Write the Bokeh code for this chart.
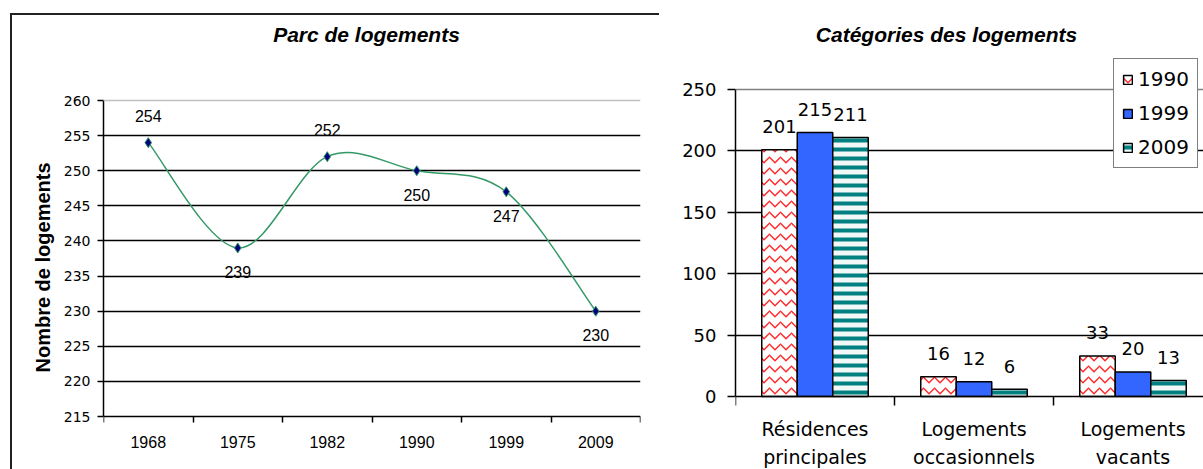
from bokeh.plotting import figure
from bokeh.layouts import row
from bokeh.models import Range1d, FixedTicker, Span, Label, Title, ColumnDataSource
from bokeh.core.properties import value
from bokeh.embed import file_html
from bokeh.resources import INLINE

# ---- data -------------------------------------------------------------
years = ["1968", "1975", "1982", "1990", "1999", "2009"]
logements = [254, 239, 252, 250, 247, 230]

categories = ["Résidences\nprincipales", "Logements\noccasionnels", "Logements\nvacants"]
series = ["1990", "1999", "2009"]
cat_1990 = [201, 16, 33]
cat_1999 = [215, 12, 20]
cat_2009 = [211, 6, 13]

# where each value label sits relative to its point on the line chart
label_side = ["above", "below", "above", "below", "below", "below"]

SANS = "Liberation Sans"
WIDE = "DejaVu Sans"
GREEN = "#339966"
H = 469

# ---- left: housing stock line chart --------------------------------------
# pixel geometry: the frame spans the full chart height, axes sit at fixed values
L_TOP, L_Y260, L_Y215 = 13, 100, 416
L_PX = (L_Y215 - L_Y260) / 45.0          # pixels per housing unit
L_CAT_PX = 89.5                           # pixels per year slot
xs = list(range(1, len(years) + 1))

p1 = figure(width=659, height=H,
            x_range=Range1d(0.5, len(years) + 0.5),
            y_range=Range1d(215 - (H - L_Y215) / L_PX, 260 + (L_Y260 - L_TOP) / L_PX),
            output_backend="svg", toolbar_location=None,
            min_border_left=103, min_border_right=19,
            min_border_top=L_TOP, min_border_bottom=0)
p1.outline_line_color = None
p1.background_fill_color = None
p1.border_fill_color = None
# chart frame: left and top edges painted behind the transparent canvas
p1.styles = {"background": "linear-gradient(#222, #222) 10px 13px / 649px 2px no-repeat, "
                           "linear-gradient(#222, #222) 10px 13px / 2px 480px no-repeat, #ffffff"}

p1.xgrid.visible = False
p1.ygrid.ticker = FixedTicker(ticks=list(range(220, 260, 5)))
p1.ygrid.grid_line_color = "black"
p1.ygrid.grid_line_width = 1.5
p1.add_layout(Span(location=260, dimension="width", line_color="#c0c0c0", line_width=1.5))

xa = p1.xaxis[0]
xa.fixed_location = 215
xa.ticker = FixedTicker(ticks=xs, minor_ticks=[x - 0.5 for x in xs] + [len(xs) + 0.5])
xa.major_label_overrides = {x: y for x, y in zip(xs, years)}
xa.major_tick_out = 0
xa.major_tick_in = 0
xa.minor_tick_out = 6
xa.minor_tick_in = 0
xa.minor_tick_line_color = "black"
xa.minor_tick_line_width = 1.5
xa.axis_line_color = "black"
xa.axis_line_width = 1.5
xa.major_label_text_font = SANS
xa.major_label_text_font_size = "16px"
xa.major_label_text_color = "black"
xa.major_label_standoff = 13

ya = p1.yaxis[0]
ya.bounds = (215, 260)
ya.ticker = FixedTicker(ticks=list(range(215, 261, 5)))
ya.minor_tick_line_color = None
ya.major_tick_out = 6
ya.major_tick_in = 0
ya.major_tick_line_color = "black"
ya.major_tick_line_width = 1.5
ya.axis_line_color = "black"
ya.axis_line_width = 1.5
ya.major_label_text_font = WIDE
ya.major_label_text_font_size = "14px"
ya.major_label_text_color = "black"
ya.major_label_standoff = 7

# vertical axis title, centred on the 215-260 span rather than the whole frame
p1.add_layout(Title(text="Nombre de logements", align="left", offset=H - 372,
                    standoff=14, text_font=SANS, text_font_size="20px",
                    text_font_style="bold", text_color="black"), "left")

# smoothed line: cubic Bezier segments with Catmull-Rom tangents
n = len(logements)
def tangent(i):
    a, b = max(i - 1, 0), min(i + 1, n - 1)
    return (xs[b] - xs[a]) / 2.0, (logements[b] - logements[a]) / 2.0

seg = dict(x0=[], y0=[], x1=[], y1=[], cx0=[], cy0=[], cx1=[], cy1=[])
for i in range(n - 1):
    t0, t1 = tangent(i), tangent(i + 1)
    seg["x0"].append(xs[i]); seg["y0"].append(logements[i])
    seg["x1"].append(xs[i + 1]); seg["y1"].append(logements[i + 1])
    seg["cx0"].append(xs[i] + t0[0] / 3); seg["cy0"].append(logements[i] + t0[1] / 3)
    seg["cx1"].append(xs[i + 1] - t1[0] / 3); seg["cy1"].append(logements[i + 1] - t1[1] / 3)
p1.bezier(x0="x0", y0="y0", x1="x1", y1="y1", cx0="cx0", cy0="cy0", cx1="cx1", cy1="cy1",
          source=ColumnDataSource(seg), line_color=GREEN, line_width=1.5)

p1.scatter(xs, logements, marker="diamond", size=10,
           fill_color="#000080", line_color=GREEN, line_width=1)

lab1 = ColumnDataSource(dict(
    x=xs, y=logements, text=[str(v) for v in logements],
    dy=[-27 if s == "above" else 24 for s in label_side]))
p1.text(x="x", y="y", text="text", y_offset="dy", source=lab1,
        text_align="center", text_baseline="middle",
        text_font=value(SANS), text_font_size="16px", text_color="black")

p1.add_layout(Label(x=0.5 + (366 - 103) / L_CAT_PX, y=260 + (L_Y260 - 34) / L_PX,
                    text="Parc de logements", text_align="center", text_baseline="middle",
                    text_font=SANS, text_font_size="21px", text_font_style="bold italic",
                    text_color="black"))

# ---- right: housing categories bar chart -----------------------------------
R_TOP, R_Y250, R_Y0 = 13, 89, 396
R_PX = (R_Y0 - R_Y250) / 250.0            # pixels per dwelling
GROUP_PX = 159.0                           # pixels per category slot
FRAME_W = 468.0
gx = [1, 2, 3]
bw = 0.2233

p2 = figure(width=544, height=H,
            x_range=Range1d(0.5, 0.5 + FRAME_W / GROUP_PX),
            y_range=Range1d(-(H - R_Y0) / R_PX, 250 + (R_Y250 - R_TOP) / R_PX),
            output_backend="svg", toolbar_location=None,
            min_border_left=76, min_border_right=0,
            min_border_top=R_TOP, min_border_bottom=0)
p2.outline_line_color = None
p2.background_fill_color = "white"
p2.border_fill_color = "white"

p2.xgrid.visible = False
p2.ygrid.ticker = FixedTicker(ticks=[50, 100, 150, 200])
p2.ygrid.grid_line_color = "black"
p2.ygrid.grid_line_width = 1.5
p2.add_layout(Span(location=250, dimension="width", line_color="#808080", line_width=1.5))

xb = p2.xaxis[0]
xb.fixed_location = 0
xb.ticker = FixedTicker(ticks=gx, minor_ticks=[g - 0.5 for g in gx] + [len(gx) + 0.5])
xb.major_label_overrides = {g: c for g, c in zip(gx, categories)}
xb.major_tick_out = 0
xb.major_tick_in = 0
xb.minor_tick_out = 9
xb.minor_tick_in = 0
xb.minor_tick_line_color = "black"
xb.minor_tick_line_width = 1.5
xb.axis_line_color = "black"
xb.axis_line_width = 1.5
xb.major_label_text_font = WIDE
xb.major_label_text_font_size = "19px"
xb.major_label_text_line_height = 1.28
xb.major_label_text_color = "black"
xb.major_label_standoff = 12

yb = p2.yaxis[0]
yb.bounds = (0, 250)
yb.ticker = FixedTicker(ticks=list(range(0, 251, 50)))
yb.minor_tick_line_color = None
yb.major_tick_out = 8
yb.major_tick_in = 0
yb.major_tick_line_color = "black"
yb.major_tick_line_width = 1.5
yb.axis_line_color = "black"
yb.axis_line_width = 1.5
yb.major_label_text_font = WIDE
yb.major_label_text_font_size = "18px"
yb.major_label_text_color = "black"
yb.major_label_standoff = 11

bar_styles = [
    dict(fill_color="white", hatch_pattern="horizontal_wave", hatch_color="#ff2a2a",
         hatch_scale=11, hatch_weight=1.5),
    dict(fill_color="#3366ff"),
    dict(fill_color="#f2f8f8", hatch_pattern="horizontal_line", hatch_color="#008080",
         hatch_scale=9, hatch_weight=4),
]
offsets = [-bw, 0.0, bw]
all_x, all_top = [], []
for name, vals, off, style in zip(series, [cat_1990, cat_1999, cat_2009], offsets, bar_styles):
    bx = [g + off for g in gx]
    p2.vbar(x=bx, top=vals, width=bw, line_color="black", line_width=1.5,
            legend_label=name, **style)
    all_x += bx
    all_top += vals

lab2 = ColumnDataSource(dict(x=all_x, y=all_top, text=[str(v) for v in all_top]))
p2.text(x="x", y="y", text="text", y_offset=-23, source=lab2,
        text_align="center", text_baseline="middle",
        text_font=value(WIDE), text_font_size="18px", text_color="black")

lg = p2.legend[0]
lg.location = (1113 - 735, H - 168)
lg.border_line_color = "black"
lg.border_line_width = 1.5
lg.background_fill_color = "white"
lg.background_fill_alpha = 1.0
lg.padding = 8
lg.spacing = 10
lg.margin = 0
lg.label_height = 24
lg.glyph_width = 11
lg.glyph_height = 11
lg.label_standoff = 5
lg.label_text_font = WIDE
lg.label_text_font_size = "20px"
lg.label_text_color = "black"

p2.add_layout(Label(x=0.5 + (946 - 735) / GROUP_PX, y=250 + (R_Y250 - 34) / R_PX,
                    text="Catégories des logements", text_align="center", text_baseline="middle",
                    text_font=SANS, text_font_size="21px", text_font_style="bold italic",
                    text_color="black"))

layout = row(p1, p2)
open("out.html", "w").write(file_html(layout, INLINE, title="Logements"))
